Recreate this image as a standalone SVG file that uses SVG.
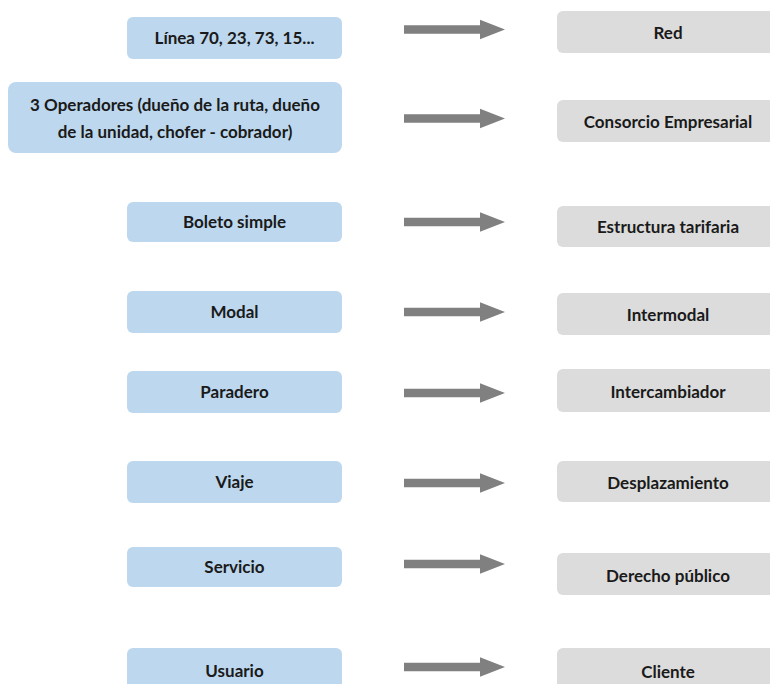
<svg xmlns="http://www.w3.org/2000/svg" xmlns:xlink="http://www.w3.org/1999/xlink" width="770" height="684" viewBox="0 0 770 684">
<style>
.b{fill:#BDD7EE}
.g{fill:#DCDCDC}
.t{font-family:Lato,"Liberation Sans",sans-serif;font-weight:bold;font-size:17px;fill:#1a1a1a;text-anchor:middle}
.a{fill:#808080}
</style>
<defs>
<polygon id="arr" points="404,-4.2 480,-4.2 480,-9.7 505,0 480,9.7 480,4.2 404,4.2"/>
</defs>
<rect width="770" height="684" fill="#ffffff"/>
<g id="connectors" class="a">
<use xlink:href="#arr" href="#arr" y="29.5"/>
<use xlink:href="#arr" href="#arr" y="118.5"/>
<use xlink:href="#arr" href="#arr" y="222"/>
<use xlink:href="#arr" href="#arr" y="312"/>
<use xlink:href="#arr" href="#arr" y="393"/>
<use xlink:href="#arr" href="#arr" y="483"/>
<use xlink:href="#arr" href="#arr" y="564"/>
<use xlink:href="#arr" href="#arr" y="667"/>
</g>
<g id="n-linea"><rect class="b" x="127" y="17" width="215" height="42" rx="6"/><text class="t" x="234.5" y="44">Línea 70, 23, 73, 15...</text></g>
<g id="n-operadores"><rect class="b" x="8" y="82" width="334" height="71" rx="8"/><text class="t" x="175" y="111">3 Operadores (dueño de la ruta, dueño</text><text class="t" x="175" y="138">de la unidad, chofer - cobrador)</text></g>
<g id="n-boleto"><rect class="b" x="127" y="202" width="215" height="40" rx="6"/><text class="t" x="234.5" y="228">Boleto simple</text></g>
<g id="n-modal"><rect class="b" x="127" y="291" width="215" height="42" rx="6"/><text class="t" x="234.5" y="318">Modal</text></g>
<g id="n-paradero"><rect class="b" x="127" y="371" width="215" height="42" rx="6"/><text class="t" x="234.5" y="398">Paradero</text></g>
<g id="n-viaje"><rect class="b" x="127" y="461" width="215" height="42" rx="6"/><text class="t" x="234.5" y="488">Viaje</text></g>
<g id="n-servicio"><rect class="b" x="127" y="547" width="215" height="40" rx="6"/><text class="t" x="234.5" y="573">Servicio</text></g>
<g id="n-usuario"><rect class="b" x="127" y="648" width="215" height="42" rx="6"/><text class="t" x="234.5" y="677">Usuario</text></g>
<g id="n-red"><rect class="g" x="557" y="11" width="222" height="42" rx="6"/><text class="t" x="668" y="39">Red</text></g>
<g id="n-consorcio"><rect class="g" x="557" y="100" width="222" height="42" rx="6"/><text class="t" x="668" y="128">Consorcio Empresarial</text></g>
<g id="n-estructura"><rect class="g" x="557" y="206" width="222" height="41" rx="6"/><text class="t" x="668" y="233">Estructura tarifaria</text></g>
<g id="n-intermodal"><rect class="g" x="557" y="293" width="222" height="42" rx="6"/><text class="t" x="668" y="321">Intermodal</text></g>
<g id="n-intercambiador"><rect class="g" x="557" y="369" width="222" height="43" rx="6"/><text class="t" x="668" y="398">Intercambiador</text></g>
<g id="n-desplazamiento"><rect class="g" x="557" y="461" width="222" height="41" rx="6"/><text class="t" x="668" y="489">Desplazamiento</text></g>
<g id="n-derecho"><rect class="g" x="557" y="553" width="222" height="42" rx="6"/><text class="t" x="668" y="582">Derecho público</text></g>
<g id="n-cliente"><rect class="g" x="557" y="648" width="222" height="42" rx="6"/><text class="t" x="668" y="678">Cliente</text></g>
</svg>
